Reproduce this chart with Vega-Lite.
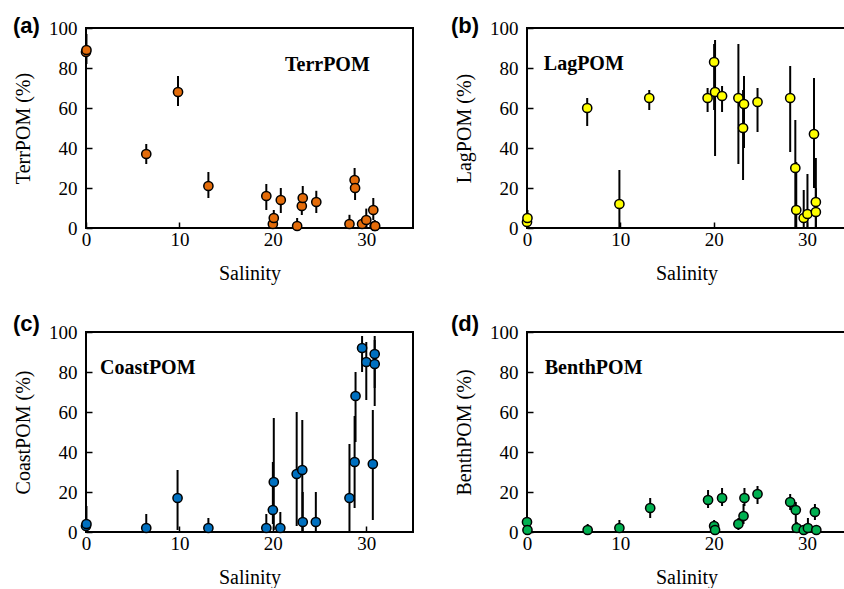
{
  "$schema": "https://vega.github.io/schema/vega-lite/v6.json",
  "background": "white",
  "padding": {"left": 12, "top": 14, "right": 0, "bottom": 0},
  "datasets": {
    "d": [
      {"p": "a", "s": 0.0, "v": 88, "lo": 83, "hi": 95},
      {"p": "a", "s": 0.05, "v": 89, "lo": 82, "hi": 97},
      {"p": "a", "s": 6.45, "v": 37, "lo": 32, "hi": 42},
      {"p": "a", "s": 9.85, "v": 68, "lo": 61, "hi": 76},
      {"p": "a", "s": 13.1, "v": 21, "lo": 15, "hi": 28},
      {"p": "a", "s": 19.3, "v": 16, "lo": 9, "hi": 22},
      {"p": "a", "s": 20.0, "v": 2, "lo": 0, "hi": 5},
      {"p": "a", "s": 20.1, "v": 5, "lo": 1, "hi": 9},
      {"p": "a", "s": 20.85, "v": 14, "lo": 7.5, "hi": 20},
      {"p": "a", "s": 22.6, "v": 1, "lo": 0, "hi": 5},
      {"p": "a", "s": 23.1, "v": 11, "lo": 6.5, "hi": 15},
      {"p": "a", "s": 23.2, "v": 15, "lo": 9, "hi": 21},
      {"p": "a", "s": 24.65, "v": 13, "lo": 7.5, "hi": 18.6},
      {"p": "a", "s": 28.2, "v": 2, "lo": 0, "hi": 6.6},
      {"p": "a", "s": 28.75, "v": 24, "lo": 18, "hi": 30},
      {"p": "a", "s": 28.8, "v": 20, "lo": 14, "hi": 26},
      {"p": "a", "s": 29.55, "v": 2, "lo": 0, "hi": 5},
      {"p": "a", "s": 30.0, "v": 4, "lo": 0, "hi": 9.7},
      {"p": "a", "s": 30.75, "v": 9, "lo": 4, "hi": 15},
      {"p": "a", "s": 30.9, "v": 1, "lo": 0, "hi": 4},
      {"p": "a", "s": 30.95, "v": 1, "lo": 0, "hi": 3},

      {"p": "b", "s": 0.0, "v": 3, "lo": 0, "hi": 15},
      {"p": "b", "s": 0.05, "v": 5, "lo": 0, "hi": 9},
      {"p": "b", "s": 6.45, "v": 60, "lo": 51, "hi": 65},
      {"p": "b", "s": 9.9, "v": 12, "lo": 0, "hi": 29},
      {"p": "b", "s": 13.1, "v": 65, "lo": 59, "hi": 69},
      {"p": "b", "s": 19.35, "v": 65, "lo": 58, "hi": 70},
      {"p": "b", "s": 20.15, "v": 68, "lo": 36, "hi": 94},
      {"p": "b", "s": 20.05, "v": 83, "lo": 59, "hi": 92},
      {"p": "b", "s": 20.9, "v": 66, "lo": 58, "hi": 71},
      {"p": "b", "s": 22.65, "v": 65, "lo": 32, "hi": 92},
      {"p": "b", "s": 23.15, "v": 50, "lo": 24, "hi": 69},
      {"p": "b", "s": 23.25, "v": 62, "lo": 40, "hi": 76},
      {"p": "b", "s": 24.7, "v": 63, "lo": 48, "hi": 70},
      {"p": "b", "s": 28.2, "v": 65, "lo": 38, "hi": 81},
      {"p": "b", "s": 28.75, "v": 30, "lo": 0, "hi": 54},
      {"p": "b", "s": 28.85, "v": 9, "lo": 0, "hi": 33},
      {"p": "b", "s": 29.65, "v": 5, "lo": 0, "hi": 19},
      {"p": "b", "s": 30.05, "v": 7, "lo": 0, "hi": 27},
      {"p": "b", "s": 30.75, "v": 47, "lo": 20, "hi": 75},
      {"p": "b", "s": 30.95, "v": 13, "lo": 0, "hi": 35},
      {"p": "b", "s": 30.95, "v": 8, "lo": 0, "hi": 20},

      {"p": "c", "s": 0.0, "v": 3, "lo": 0, "hi": 8},
      {"p": "c", "s": 0.05, "v": 4, "lo": 0, "hi": 13},
      {"p": "c", "s": 6.45, "v": 2, "lo": 0, "hi": 9},
      {"p": "c", "s": 9.8, "v": 17, "lo": 1, "hi": 31},
      {"p": "c", "s": 13.1, "v": 2, "lo": 0, "hi": 7},
      {"p": "c", "s": 19.3, "v": 2, "lo": 0, "hi": 9},
      {"p": "c", "s": 20.1, "v": 25, "lo": 1, "hi": 57},
      {"p": "c", "s": 20.0, "v": 11, "lo": 4, "hi": 35},
      {"p": "c", "s": 20.8, "v": 2, "lo": 0, "hi": 10},
      {"p": "c", "s": 22.55, "v": 29, "lo": 3, "hi": 60},
      {"p": "c", "s": 23.15, "v": 31, "lo": 0, "hi": 56},
      {"p": "c", "s": 23.2, "v": 5, "lo": 0, "hi": 20},
      {"p": "c", "s": 24.6, "v": 5, "lo": 0, "hi": 20},
      {"p": "c", "s": 28.2, "v": 17, "lo": 0, "hi": 44},
      {"p": "c", "s": 28.75, "v": 35, "lo": 12, "hi": 58},
      {"p": "c", "s": 28.85, "v": 68, "lo": 45, "hi": 80},
      {"p": "c", "s": 29.55, "v": 92, "lo": 80, "hi": 98},
      {"p": "c", "s": 30.0, "v": 85, "lo": 66, "hi": 95},
      {"p": "c", "s": 30.7, "v": 34, "lo": 6, "hi": 61},
      {"p": "c", "s": 30.9, "v": 84, "lo": 63, "hi": 96},
      {"p": "c", "s": 30.9, "v": 89, "lo": 72, "hi": 98},

      {"p": "d", "s": 0.0, "v": 5, "lo": 0, "hi": 12},
      {"p": "d", "s": 0.05, "v": 1, "lo": 0, "hi": 3},
      {"p": "d", "s": 6.5, "v": 1, "lo": 0, "hi": 4},
      {"p": "d", "s": 9.9, "v": 2, "lo": 0, "hi": 6},
      {"p": "d", "s": 13.2, "v": 12, "lo": 7, "hi": 17},
      {"p": "d", "s": 19.4, "v": 16, "lo": 12, "hi": 21},
      {"p": "d", "s": 20.05, "v": 3, "lo": 0, "hi": 6},
      {"p": "d", "s": 20.15, "v": 1, "lo": 0, "hi": 3},
      {"p": "d", "s": 20.9, "v": 17, "lo": 13, "hi": 22},
      {"p": "d", "s": 22.65, "v": 4, "lo": 1, "hi": 7},
      {"p": "d", "s": 23.2, "v": 8, "lo": 4, "hi": 14},
      {"p": "d", "s": 23.3, "v": 17, "lo": 13, "hi": 22},
      {"p": "d", "s": 24.7, "v": 19, "lo": 14, "hi": 23},
      {"p": "d", "s": 28.2, "v": 15, "lo": 11, "hi": 19},
      {"p": "d", "s": 28.8, "v": 11, "lo": 3, "hi": 15},
      {"p": "d", "s": 28.9, "v": 2, "lo": 0, "hi": 5},
      {"p": "d", "s": 29.65, "v": 1, "lo": 0, "hi": 3},
      {"p": "d", "s": 30.1, "v": 2, "lo": 0, "hi": 7},
      {"p": "d", "s": 30.85, "v": 10, "lo": 6, "hi": 14},
      {"p": "d", "s": 31.0, "v": 1, "lo": 0, "hi": 3}
    ],
    "labels": [
      {"p": "a", "s": 21.3, "v": 78.6, "t": "TerrPOM"},
      {"p": "b", "s": 1.8, "v": 79.2, "t": "LagPOM"},
      {"p": "c", "s": 1.5, "v": 79, "t": "CoastPOM"},
      {"p": "d", "s": 1.9, "v": 79, "t": "BenthPOM"}
    ]
  },
  "config": {
    "view": {"stroke": "black", "strokeWidth": 2},
    "axis": {
      "grid": false,
      "domain": false,
      "tickColor": "black",
      "tickWidth": 1.5,
      "tickSize": -6,
      "labelFlush": false,
      "labelOverlap": false,
      "labelFont": "Liberation Serif",
      "labelFontSize": 19,
      "labelColor": "black",
      "titleFont": "Liberation Serif",
      "titleFontSize": 20,
      "titleFontWeight": "normal",
      "titleColor": "black"
    },
    "axisX": {"labelPadding": 8, "titlePadding": 14, "tickCount": 10},
    "axisY": {"labelPadding": 15, "titlePadding": 15, "tickCount": 10},
    "title": {
      "font": "Liberation Sans",
      "fontSize": 22,
      "fontWeight": "bold",
      "color": "black",
      "anchor": "start",
      "frame": "group",
      "offset": 0,
      "baseline": "alphabetic"
    }
  },
  "columns": 2,
  "spacing": {"row": 104, "column": 114},
  "bounds": "flush",
  "concat": [
    {
      "width": 327, "height": 200,
      "title": {"text": "(a)", "dx": -73, "dy": 23},
      "layer": [
        {
          "data": {"name": "d"},
          "transform": [{"filter": "datum.p == 'a'"}],
          "mark": {"type": "rule", "color": "black", "strokeWidth": 2},
          "encoding": {
            "x": {"field": "s", "type": "quantitative", "scale": {"domain": [0, 35], "nice": false}, "axis": {"values": [0, 10, 20, 30], "tickCount": 10, "title": "Salinity"}},
            "y": {"field": "lo", "type": "quantitative", "scale": {"domain": [0, 100], "nice": false}, "axis": {"values": [0, 20, 40, 60, 80, 100], "tickCount": 10, "title": "TerrPOM (%)"}},
            "y2": {"field": "hi"}
          }
        },
        {
          "data": {"name": "d"},
          "transform": [{"filter": "datum.p == 'a'"}],
          "mark": {"type": "point", "shape": "circle", "filled": true, "size": 85, "fill": "#E46C0A", "stroke": "black", "strokeWidth": 1.5, "opacity": 1},
          "encoding": {
            "x": {"field": "s", "type": "quantitative"},
            "y": {"field": "v", "type": "quantitative"}
          }
        },
        {
          "data": {"name": "labels"},
          "transform": [{"filter": "datum.p == 'a'"}],
          "mark": {"type": "text", "font": "Liberation Serif", "fontWeight": "bold", "fontSize": 20, "align": "left", "baseline": "alphabetic", "color": "black"},
          "encoding": {
            "x": {"field": "s", "type": "quantitative"},
            "y": {"field": "v", "type": "quantitative"},
            "text": {"field": "t"}
          }
        }
      ]
    },
    {
      "width": 319, "height": 200,
      "title": {"text": "(b)", "dx": -76, "dy": 23},
      "layer": [
        {
          "data": {"name": "d"},
          "transform": [{"filter": "datum.p == 'b'"}],
          "mark": {"type": "rule", "color": "black", "strokeWidth": 2},
          "encoding": {
            "x": {"field": "s", "type": "quantitative", "scale": {"domain": [0, 34.18], "nice": false}, "axis": {"values": [0, 10, 20, 30], "tickCount": 10, "title": "Salinity"}},
            "y": {"field": "lo", "type": "quantitative", "scale": {"domain": [0, 100], "nice": false}, "axis": {"values": [0, 20, 40, 60, 80, 100], "tickCount": 10, "title": "LagPOM (%)"}},
            "y2": {"field": "hi"}
          }
        },
        {
          "data": {"name": "d"},
          "transform": [{"filter": "datum.p == 'b'"}],
          "mark": {"type": "point", "shape": "circle", "filled": true, "size": 85, "fill": "#FFFF00", "stroke": "black", "strokeWidth": 1.5, "opacity": 1},
          "encoding": {
            "x": {"field": "s", "type": "quantitative"},
            "y": {"field": "v", "type": "quantitative"}
          }
        },
        {
          "data": {"name": "labels"},
          "transform": [{"filter": "datum.p == 'b'"}],
          "mark": {"type": "text", "font": "Liberation Serif", "fontWeight": "bold", "fontSize": 20, "align": "left", "baseline": "alphabetic", "color": "black"},
          "encoding": {
            "x": {"field": "s", "type": "quantitative"},
            "y": {"field": "v", "type": "quantitative"},
            "text": {"field": "t"}
          }
        }
      ]
    },
    {
      "width": 327, "height": 200,
      "title": {"text": "(c)", "dx": -73, "dy": 17},
      "layer": [
        {
          "data": {"name": "d"},
          "transform": [{"filter": "datum.p == 'c'"}],
          "mark": {"type": "rule", "color": "black", "strokeWidth": 2},
          "encoding": {
            "x": {"field": "s", "type": "quantitative", "scale": {"domain": [0, 35], "nice": false}, "axis": {"values": [0, 10, 20, 30], "tickCount": 10, "title": "Salinity"}},
            "y": {"field": "lo", "type": "quantitative", "scale": {"domain": [0, 100], "nice": false}, "axis": {"values": [0, 20, 40, 60, 80, 100], "tickCount": 10, "title": "CoastPOM (%)"}},
            "y2": {"field": "hi"}
          }
        },
        {
          "data": {"name": "d"},
          "transform": [{"filter": "datum.p == 'c'"}],
          "mark": {"type": "point", "shape": "circle", "filled": true, "size": 85, "fill": "#0070C0", "stroke": "black", "strokeWidth": 1.5, "opacity": 1},
          "encoding": {
            "x": {"field": "s", "type": "quantitative"},
            "y": {"field": "v", "type": "quantitative"}
          }
        },
        {
          "data": {"name": "labels"},
          "transform": [{"filter": "datum.p == 'c'"}],
          "mark": {"type": "text", "font": "Liberation Serif", "fontWeight": "bold", "fontSize": 20, "align": "left", "baseline": "alphabetic", "color": "black"},
          "encoding": {
            "x": {"field": "s", "type": "quantitative"},
            "y": {"field": "v", "type": "quantitative"},
            "text": {"field": "t"}
          }
        }
      ]
    },
    {
      "width": 319, "height": 200,
      "title": {"text": "(d)", "dx": -76, "dy": 17},
      "layer": [
        {
          "data": {"name": "d"},
          "transform": [{"filter": "datum.p == 'd'"}],
          "mark": {"type": "rule", "color": "black", "strokeWidth": 2},
          "encoding": {
            "x": {"field": "s", "type": "quantitative", "scale": {"domain": [0, 34.18], "nice": false}, "axis": {"values": [0, 10, 20, 30], "tickCount": 10, "title": "Salinity"}},
            "y": {"field": "lo", "type": "quantitative", "scale": {"domain": [0, 100], "nice": false}, "axis": {"values": [0, 20, 40, 60, 80, 100], "tickCount": 10, "title": "BenthPOM (%)"}},
            "y2": {"field": "hi"}
          }
        },
        {
          "data": {"name": "d"},
          "transform": [{"filter": "datum.p == 'd'"}],
          "mark": {"type": "point", "shape": "circle", "filled": true, "size": 85, "fill": "#00B050", "stroke": "black", "strokeWidth": 1.5, "opacity": 1},
          "encoding": {
            "x": {"field": "s", "type": "quantitative"},
            "y": {"field": "v", "type": "quantitative"}
          }
        },
        {
          "data": {"name": "labels"},
          "transform": [{"filter": "datum.p == 'd'"}],
          "mark": {"type": "text", "font": "Liberation Serif", "fontWeight": "bold", "fontSize": 20, "align": "left", "baseline": "alphabetic", "color": "black"},
          "encoding": {
            "x": {"field": "s", "type": "quantitative"},
            "y": {"field": "v", "type": "quantitative"},
            "text": {"field": "t"}
          }
        }
      ]
    }
  ]
}
